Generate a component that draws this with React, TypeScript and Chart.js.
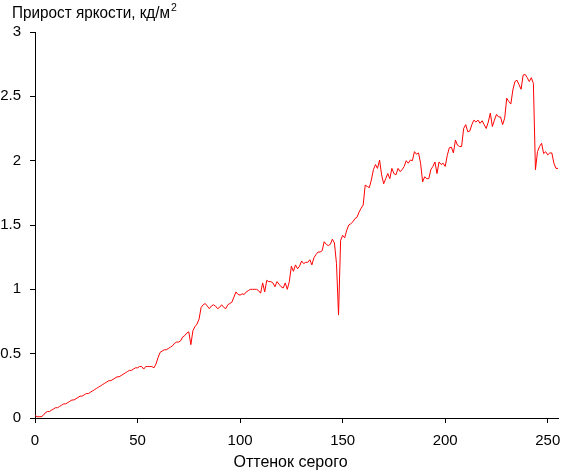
import React, { useEffect, useRef } from "react";
import { Chart, registerables } from "chart.js";

Chart.register(...registerables);

const titleMain = "Прирост яркости, кд/м";
const titleSup = "2";
const xTitle = "Оттенок серого";

const xTickValues: number[] = [0, 50, 100, 150, 200, 250];
const yTickValues: number[] = [0, 0.5, 1, 1.5, 2, 2.5, 3];

// brightness increment per gray level 0..255
const increments: number[] = [
  0.02, 0.01, 0.01, 0.01, 0.02, 0.04, 0.05, 0.05, 0.06, 0.07,
  0.08, 0.08, 0.09, 0.10, 0.11, 0.11, 0.12, 0.13, 0.14, 0.14,
  0.15, 0.16, 0.17, 0.17, 0.18, 0.19, 0.19, 0.20, 0.21, 0.22,
  0.23, 0.24, 0.25, 0.26, 0.27, 0.28, 0.29, 0.29, 0.30, 0.31,
  0.32, 0.32, 0.33, 0.34, 0.35, 0.36, 0.37, 0.37, 0.38, 0.39,
  0.39, 0.40, 0.40, 0.38, 0.40, 0.40, 0.40, 0.40, 0.39, 0.42,
  0.47, 0.51, 0.52, 0.53, 0.53, 0.54, 0.55, 0.56, 0.58, 0.59,
  0.59, 0.60, 0.63, 0.64, 0.66, 0.67, 0.57, 0.68, 0.71, 0.73,
  0.77, 0.86, 0.88, 0.89, 0.87, 0.85, 0.87, 0.88, 0.87, 0.85,
  0.86, 0.88, 0.86, 0.85, 0.88, 0.89, 0.90, 0.94, 0.98, 0.96,
  0.955, 0.965, 0.96, 0.98, 0.99, 1.00, 1.00, 1.00, 1.00, 0.99,
  0.97, 1.05, 0.98, 1.07, 1.06, 1.06, 1.05, 1.02, 1.06, 1.04,
  1.02, 1.01, 1.05, 1.00, 1.06, 1.18, 1.14, 1.19, 1.16, 1.18,
  1.22, 1.20, 1.21, 1.21, 1.23, 1.19, 1.245, 1.27, 1.29, 1.29,
  1.30, 1.37, 1.35, 1.34, 1.35, 1.39, 1.36, 1.20, 0.80, 1.38,
  1.42, 1.40, 1.46, 1.50, 1.51, 1.525, 1.55, 1.56, 1.60, 1.63,
  1.655, 1.81, 1.80, 1.79, 1.85, 1.93, 1.97, 1.94, 2.005, 1.89,
  1.82, 1.86, 1.90, 1.86, 1.94, 1.90, 1.89, 1.94, 1.915, 1.93,
  1.955, 2.00, 1.98, 2.005, 2.00, 2.07, 2.05, 2.06, 1.98, 1.835,
  1.875, 1.86, 1.86, 1.93, 1.955, 1.99, 1.90, 1.99, 1.97, 1.98,
  1.955, 2.04, 2.10, 2.105, 2.06, 2.16, 2.12, 2.11, 2.11, 2.25,
  2.28, 2.225, 2.23, 2.28, 2.315, 2.30, 2.315, 2.29, 2.31, 2.28,
  2.25, 2.30, 2.37, 2.265, 2.315, 2.36, 2.34, 2.34, 2.28, 2.33,
  2.485, 2.46, 2.44, 2.55, 2.615, 2.625, 2.59, 2.555, 2.665, 2.67,
  2.645, 2.615, 2.645, 2.60, 1.93, 2.07, 2.11, 2.135, 2.055, 2.07,
  2.045, 2.06, 2.06, 1.98, 1.94, 1.94,
];

const FONT = '"Liberation Sans", Arial, sans-serif';

const titlePlugin = {
  id: "customTitle",
  afterDraw(chart: any) {
    const ctx = chart.ctx;
    ctx.save();
    ctx.fillStyle = "#000";
    ctx.textBaseline = "alphabetic";
    ctx.textAlign = "left";
    ctx.font = `16px ${FONT}`;
    const w0 = ctx.measureText(titleMain).width;
    const sx = Math.min(1, 158 / w0);
    ctx.save();
    ctx.translate(12, 18);
    ctx.scale(sx, 1);
    ctx.fillText(titleMain, 0, 0);
    ctx.font = `11px ${FONT}`;
    ctx.fillText(titleSup, w0 + 1, -7);
    ctx.restore();
    // x-axis title, centred on the canvas
    ctx.font = `16px ${FONT}`;
    ctx.textAlign = "center";
    ctx.textBaseline = "middle";
    ctx.fillText(xTitle, chart.width / 2 + 10, 463);
    ctx.restore();
  },
};

export default function App() {
  const canvasRef = useRef<HTMLCanvasElement | null>(null);

  useEffect(() => {
    document.body.style.margin = "0";
    const canvas = canvasRef.current;
    if (!canvas) return;
    const points = increments.map((v, i) => ({ x: i, y: v }));
    const chart = new Chart(canvas, {
      type: "line",
      data: {
        datasets: [
          {
            data: points,
            borderColor: "#ff0000",
            borderWidth: 1,
            pointRadius: 0,
            tension: 0,
            fill: false,
          },
        ],
      },
      options: {
        responsive: false,
        animation: false,
        events: [],
        layout: { padding: { top: 32, right: 3, left: 0, bottom: 0 } },
        plugins: {
          legend: { display: false },
          title: { display: false },
          tooltip: { enabled: false },
        },
        scales: {
          x: {
            type: "linear",
            min: 0,
            max: 255,
            afterBuildTicks: (scale: any) => {
              scale.ticks = xTickValues.map((v) => ({ value: v }));
            },
            afterFit: (scale: any) => {
              scale.height = 53;
              scale.paddingLeft = 0;
              scale.paddingRight = 0;
            },
            grid: {
              display: true,
              drawOnChartArea: false,
              drawTicks: true,
              tickLength: 5,
              color: "#000",
              lineWidth: 1,
            },
            border: { display: true, color: "#000", width: 1 },
            ticks: {
              color: "#000",
              font: { family: FONT, size: 15 },
              padding: 9,
              maxRotation: 0,
              autoSkip: false,
              callback: (v: any) => String(v),
            },
            title: { display: false },
          },
          y: {
            type: "linear",
            min: 0,
            max: 3,
            afterBuildTicks: (scale: any) => {
              scale.ticks = yTickValues.map((v) => ({ value: v }));
            },
            afterFit: (scale: any) => {
              scale.width = 35;
            },
            grid: {
              display: true,
              drawOnChartArea: false,
              drawTicks: true,
              tickLength: 5,
              color: "#000",
              lineWidth: 1,
            },
            border: { display: true, color: "#000", width: 1 },
            ticks: {
              color: "#000",
              font: { family: FONT, size: 15 },
              padding: 9,
              autoSkip: false,
              callback: (v: any) => String(v),
            },
          },
        },
      },
      plugins: [titlePlugin],
    } as any);
    return () => chart.destroy();
  }, []);

  return (
    <div style={{ width: 561, height: 471, background: "#fff" }}>
      <canvas ref={canvasRef} width={561} height={471} style={{ display: "block" }} />
    </div>
  );
}
